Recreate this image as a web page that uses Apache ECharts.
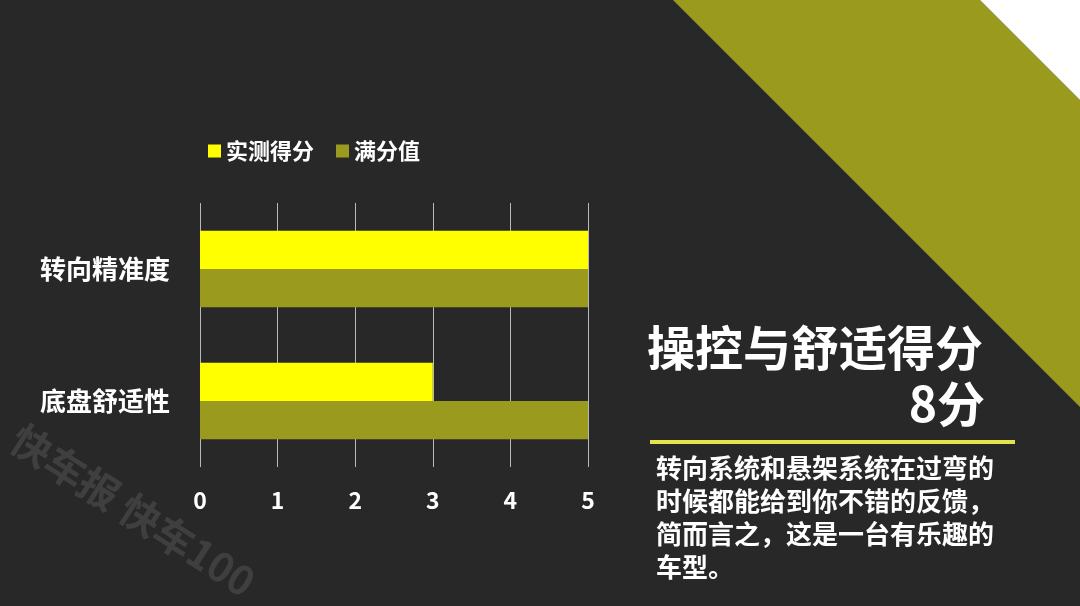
<!DOCTYPE html>
<html><head><meta charset="utf-8">
<script src="https://cdn.jsdelivr.net/npm/echarts@6/dist/echarts.min.js"></script>
<style>html,body{margin:0;padding:0;background:#282828;}#c{width:1080px;height:606px;}</style>
</head><body><div id="c"></div>
<script>
const categories = ['转向精准度', '底盘舒适性'];
const seriesNames = ['实测得分', '满分值'];
const actualScores = [5, 3];
const fullScores = [5, 5];
const xTicks = [0, 1, 2, 3, 4, 5];

const FONT = '"Noto Sans CJK SC", "Noto Sans", sans-serif';
const chart = echarts.init(document.getElementById('c'));
chart.setOption({
  backgroundColor: '#282828',
  animation: false,
  textStyle: { fontFamily: FONT },
  legend: {
    data: seriesNames,
    left: 203, top: 135,
    itemWidth: 13, itemHeight: 13, itemGap: 22,
    icon: 'rect',
    textStyle: { color: '#fff', fontSize: 22, fontWeight: 'bold', fontFamily: FONT }
  },
  grid: { left: 200, right: 492, top: 203, bottom: 139, containLabel: false },
  xAxis: {
    type: 'value', min: xTicks[0], max: xTicks[xTicks.length - 1], interval: 1,
    axisLine: { show: false }, axisTick: { show: false },
    splitLine: { show: true, lineStyle: { color: '#b8b8b8', width: 1 } },
    axisLabel: { color: '#fff', fontSize: 23, fontWeight: 'bold', margin: 22, fontFamily: FONT }
  },
  yAxis: {
    type: 'category', data: categories, inverse: true,
    axisLine: { show: false }, axisTick: { show: false },
    axisLabel: { color: '#fff', fontSize: 26, fontWeight: 'bold', margin: 30, fontFamily: FONT }
  },
  series: [
    { name: seriesNames[0], type: 'bar', data: actualScores, itemStyle: { color: '#ffff00' },
      barGap: '0%', barCategoryGap: '42%' },
    { name: seriesNames[1], type: 'bar', data: fullScores, itemStyle: { color: '#9a9b1e' },
      barGap: '0%', barCategoryGap: '42%' }
  ],
  graphic: [
    { type: 'polygon', z: -1, shape: { points: [[673, 0], [980, 0], [1080, 100], [1080, 407]] },
      style: { fill: '#9a9b1e' } },
    { type: 'polygon', z: -1, shape: { points: [[980, 0], [1080, 0], [1080, 100]] },
      style: { fill: '#ffffff' } },
    { type: 'text', left: 647, top: 324,
      style: { text: '操控与舒适得分', fill: '#fff', font: 'bold 48px ' + FONT } },
    { type: 'text', right: 95, top: 380,
      style: { text: '8分', fill: '#fff', font: 'bold 48px ' + FONT, textAlign: 'right' } },
    { type: 'rect', shape: { x: 650, y: 440, width: 365, height: 4 }, style: { fill: '#e3e44a' } },
    { type: 'text', left: 656, top: 452,
      style: { text: '转向系统和悬架系统在过弯的\n时候都能给到你不错的反馈，\n简而言之，这是一台有乐趣的\n车型。',
        fill: '#fff', font: 'bold 26px ' + FONT, lineHeight: 33 } },
    { type: 'text', x: 26, y: 418, rotation: -0.57,
      style: { text: '快车报 快车100', fill: 'rgba(255,255,255,0.11)', font: 'bold 40px ' + FONT } }
  ]
});
</script></body></html>
